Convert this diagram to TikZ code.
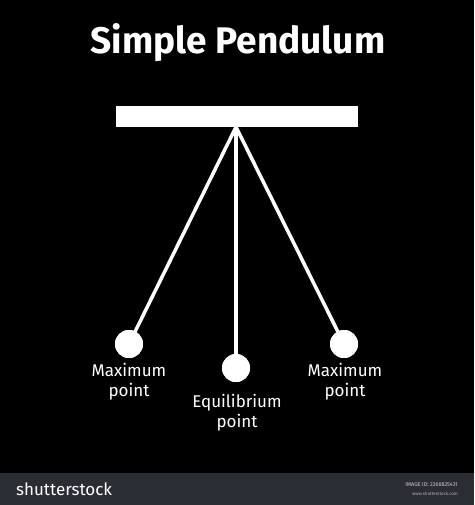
\documentclass[tikz,border=0pt]{standalone}
\usepackage{fontspec}
\setmainfont{Fira Sans}
\definecolor{stripe}{RGB}{42,45,52}
\begin{document}
\begin{tikzpicture}[x=1pt,y=-1pt,
  string/.style={draw=white,line width=3.5pt},
  bob/.style={circle,fill=white,minimum size=28pt,inner sep=0pt},
  lbl/.style={text=white,font=\fontsize{17}{20.5}\selectfont,align=center,inner sep=0pt},
  every node/.style={inner sep=0pt}]
\fill[black] (0,0) rectangle (474,505);
\useasboundingbox (0,0) rectangle (474,505);
\fill[stripe] (0,473) rectangle (474,505);
\node[text=white,font=\fontsize{37}{42}\selectfont\bfseries] (title) at (238,43) {Simple Pendulum};
\node[fill=white,minimum width=242pt,minimum height=21pt] (bar) at (237,116.5) {};
\coordinate (pivot) at (236,127);
\node[bob] (bl) at (129,344) {};
\node[bob] (bc) at (236,368) {};
\node[bob] (br) at (344,344) {};
\draw[string] (pivot) -- (bl.center);
\draw[string] (pivot) -- (bc.center);
\draw[string] (pivot) -- (br.center);
\node[bob] at (bl) {};
\node[bob] at (bc) {};
\node[bob] at (br) {};
\node[lbl,anchor=north] (ll) at (129,363) {Maximum\\point};
\node[lbl,anchor=north] (lc) at (237,394) {Equilibrium\\point};
\node[lbl,anchor=north] (lr) at (345,363) {Maximum\\point};
\node[text=white,font=\fontsize{17}{20}\selectfont\mdseries,anchor=west] (logo) at (16,489) {shutterstock};
\node[text=white!80!black,font=\fontsize{5.5}{6}\selectfont,anchor=east] (imgid) at (458,485) {IMAGE ID: 2268825431};
\node[text=white!70!black,font=\fontsize{4.5}{5}\selectfont,anchor=east] (www) at (458,494) {www.shutterstock.com};
\end{tikzpicture}
\end{document}
